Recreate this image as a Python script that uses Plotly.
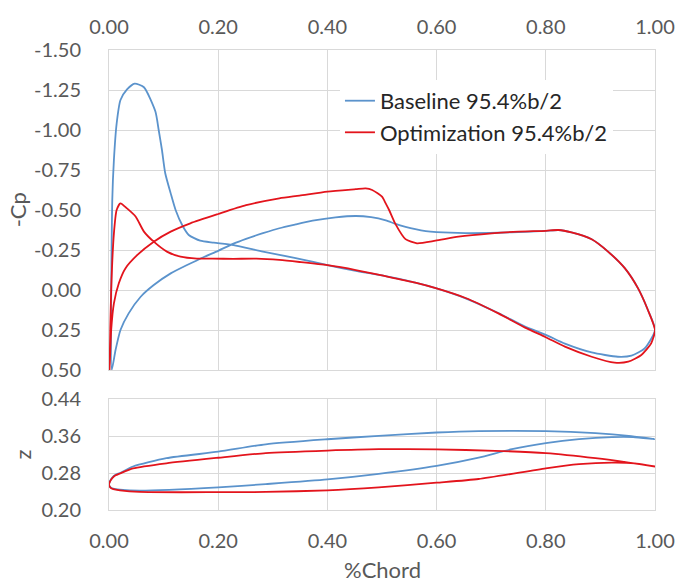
import plotly.graph_objects as go

# ---------------- data ----------------
series_names = ["Baseline 95.4%b/2", "Optimization 95.4%b/2"]

# Pressure distribution (value plotted on the -Cp axis), baseline
base_up_x = [0.005, 0.012, 0.021, 0.036, 0.058, 0.082, 0.113, 0.143, 0.173, 0.2, 0.228, 0.251, 0.282,
             0.312, 0.342, 0.373, 0.415, 0.452, 0.48, 0.507, 0.525, 0.543, 0.561, 0.58, 0.6, 0.653,
             0.713, 0.762, 0.8, 0.823, 0.847, 0.884, 0.914, 0.945, 0.969, 0.987, 1.0]
base_up_cp = [0.5, 0.375, 0.25, 0.146, 0.042, -0.031, -0.104, -0.156, -0.205, -0.245, -0.29, -0.32, -0.355,
              -0.386, -0.41, -0.433, -0.454, -0.4625, -0.455, -0.435, -0.413, -0.395, -0.38, -0.368, -0.362, -0.356,
              -0.358, -0.363, -0.37, -0.375, -0.36, -0.317, -0.24, -0.135, -0.01, 0.125, 0.25]
base_lo_x = [0.004, 0.006, 0.009, 0.014, 0.021, 0.033, 0.047, 0.064, 0.085, 0.091, 0.097, 0.103, 0.113,
             0.122, 0.134, 0.146, 0.167, 0.192, 0.228, 0.282, 0.342, 0.4, 0.452, 0.495, 0.561, 0.6, 0.653,
             0.713, 0.762, 0.8, 0.835, 0.884, 0.932, 0.957, 0.981, 1.0]
base_lo_cp = [0.5, -0.5625, -0.8125, -1.04, -1.1875, -1.254, -1.29, -1.267, -1.115, -1.0, -0.875, -0.73, -0.604,
              -0.5, -0.406, -0.344, -0.308, -0.296, -0.281, -0.24, -0.2, -0.155, -0.12, -0.094, -0.046, -0.01, 0.052,
              0.144, 0.229, 0.28, 0.335, 0.39, 0.417, 0.41, 0.365, 0.25]

# Pressure distribution, optimization
opt_up_x = [0.001, 0.004, 0.009, 0.018, 0.03, 0.052, 0.082, 0.113, 0.149, 0.2, 0.251, 0.312, 0.349, 0.4,
            0.452, 0.47, 0.482, 0.5, 0.507, 0.513, 0.525, 0.543, 0.564, 0.598, 0.64, 0.701, 0.75, 0.8,
            0.823, 0.847, 0.884, 0.914, 0.945, 0.969, 0.987, 1.0]
opt_up_cp = [0.5, 0.25, 0.083, -0.042, -0.135, -0.219, -0.302, -0.365, -0.417, -0.475, -0.53, -0.573, -0.59, -0.615,
             -0.63, -0.635, -0.625, -0.583, -0.54, -0.5, -0.41, -0.318, -0.292, -0.308, -0.333, -0.354, -0.365, -0.37,
             -0.375, -0.36, -0.317, -0.24, -0.135, -0.01, 0.125, 0.25]
opt_lo_x = [0.0, 0.004, 0.009, 0.014, 0.021, 0.033, 0.049, 0.064, 0.082, 0.106, 0.131, 0.161, 0.19, 0.228,
            0.27, 0.312, 0.349, 0.4, 0.452, 0.495, 0.561, 0.6, 0.653, 0.713, 0.762, 0.8, 0.835, 0.884,
            0.926, 0.951, 0.975, 0.993, 1.0]
opt_lo_cp = [0.5, 0.0, -0.354, -0.5, -0.542, -0.51, -0.458, -0.365, -0.302, -0.24, -0.208, -0.196, -0.196, -0.195,
             -0.196, -0.188, -0.175, -0.155, -0.125, -0.094, -0.046, -0.01, 0.05, 0.146, 0.235, 0.295, 0.354, 0.417,
             0.454, 0.448, 0.406, 0.333, 0.25]

# Section geometry (z), baseline
base_zu_x = [0.0, 0.002, 0.006, 0.012, 0.02, 0.044, 0.105, 0.2, 0.287, 0.4, 0.494, 0.6, 0.677, 0.8, 0.891, 0.952, 1.0]
base_zu = [0.254, 0.263, 0.27, 0.276, 0.28, 0.294, 0.312, 0.326, 0.342, 0.353, 0.3604, 0.3676, 0.3706, 0.3706,
           0.3663, 0.3604, 0.3532]
base_zl_x = [0.0, 0.003, 0.008, 0.02, 0.056, 0.2, 0.287, 0.4, 0.494, 0.6, 0.677, 0.738, 0.8, 0.861, 0.921, 0.96, 1.0]
base_zl = [0.254, 0.249, 0.246, 0.244, 0.242, 0.249, 0.256, 0.266, 0.278, 0.2953, 0.3133, 0.3315, 0.3445, 0.3532,
           0.3576, 0.3576, 0.3532]

# Section geometry (z), optimization
opt_zu_x = [0.0, 0.002, 0.006, 0.012, 0.02, 0.044, 0.105, 0.2, 0.287, 0.4, 0.494, 0.6, 0.707, 0.8, 0.891, 0.952, 1.0]
opt_zu = [0.254, 0.262, 0.269, 0.275, 0.279, 0.29, 0.301, 0.313, 0.323, 0.3285, 0.3315, 0.331, 0.328, 0.323,
          0.312, 0.3025, 0.294]
opt_zl_x = [0.0, 0.003, 0.008, 0.02, 0.056, 0.2, 0.287, 0.4, 0.494, 0.6, 0.677, 0.8, 0.861, 0.921, 0.963, 1.0]
opt_zl = [0.254, 0.248, 0.245, 0.2425, 0.239, 0.2385, 0.239, 0.2425, 0.249, 0.259, 0.267, 0.29, 0.299, 0.3025,
          0.301, 0.294]

# tick values / labels
x_ticks = [0.0, 0.2, 0.4, 0.6, 0.8, 1.0]
x_ticklabels = ["0.00", "0.20", "0.40", "0.60", "0.80", "1.00"]
cp_ticks = [-1.5, -1.25, -1.0, -0.75, -0.5, -0.25, 0.0, 0.25, 0.5]
cp_ticklabels = ["-1.50", "-1.25", "-1.00", "-0.75", "-0.50", "-0.25", "0.00", "0.25", "0.50"]
z_ticks = [0.20, 0.28, 0.36, 0.44]
z_ticklabels = ["0.20", "0.28", "0.36", "0.44"]

colors = ["#5b93cc", "#e3141c"]


def loop(ux, uy, lx, ly):
    # trailing edge -> upper -> leading edge -> lower -> trailing edge
    return list(reversed(ux)) + lx[1:], list(reversed(uy)) + ly[1:]


cp_sets = [loop(base_up_x, base_up_cp, base_lo_x, base_lo_cp), loop(opt_up_x, opt_up_cp, opt_lo_x, opt_lo_cp)]
z_sets = [loop(base_zu_x, base_zu, base_zl_x, base_zl), loop(opt_zu_x, opt_zu, opt_zl_x, opt_zl)]

FONT = "Lato"
TXT = "#595959"
GRID = "#d9d9d9"

fig = go.Figure()
for i, name in enumerate(series_names):
    x, y = cp_sets[i]
    fig.add_trace(go.Scatter(x=x, y=y, mode="lines", name=name, legendgroup=name,
                             line=dict(color=colors[i], width=1.8, shape="spline", smoothing=0.6),
                             xaxis="x", yaxis="y"))
for i, name in enumerate(series_names):
    x, y = z_sets[i]
    fig.add_trace(go.Scatter(x=x, y=y, mode="lines", name=name, legendgroup=name, showlegend=False,
                             line=dict(color=colors[i], width=1.8, shape="spline", smoothing=0.6),
                             xaxis="x2", yaxis="y2"))

tickfont = dict(family=FONT, size=20, color=TXT)
common = dict(showgrid=True, gridcolor=GRID, gridwidth=1, zeroline=False, showline=True,
              linecolor=GRID, linewidth=1, mirror=True, ticks="", tickfont=tickfont, automargin=False,
              ticklabeloverflow="allow")

fig.update_layout(
    width=676, height=583,
    margin=dict(l=109, r=21, t=50, b=73, autoexpand=False),
    paper_bgcolor="white", plot_bgcolor="white",
    font=dict(family=FONT, color=TXT),
    xaxis=dict(domain=[0, 1], range=[0, 1], tickvals=x_ticks, ticktext=x_ticklabels, side="top",
               anchor="y", ticklabelstandoff=7, **common),
    yaxis=dict(domain=[0.3043, 1.0], range=[0.5, -1.5], tickvals=cp_ticks, ticktext=cp_ticklabels,
               anchor="x", ticklabelstandoff=23, **common),
    xaxis2=dict(domain=[0, 1], range=[0, 1], tickvals=x_ticks, ticktext=x_ticklabels, side="bottom",
                anchor="y2", ticklabelstandoff=13, **common),
    yaxis2=dict(domain=[0, 0.2413], range=[0.2, 0.44], tickvals=z_ticks, ticktext=z_ticklabels,
                anchor="x2", ticklabelstandoff=23, **common),
    legend=dict(x=0.423, y=0.935, xanchor="left", yanchor="top", bgcolor="white",
                font=dict(family=FONT, size=22, color="#262626"), tracegroupgap=0),
    showlegend=True,
    annotations=[
        dict(text="-Cp", xref="paper", yref="paper", x=-0.168, y=0.652, showarrow=False,
             textangle=-90, font=dict(family=FONT, size=22, color=TXT), xanchor="center", yanchor="middle"),
        dict(text="z", xref="paper", yref="paper", x=-0.159, y=0.121, showarrow=False,
             textangle=-90, font=dict(family=FONT, size=22, color=TXT), xanchor="center", yanchor="middle"),
        dict(text="%Chord", xref="paper", yref="paper", x=0.5, y=-0.13, showarrow=False,
             font=dict(family=FONT, size=22, color=TXT), xanchor="center", yanchor="middle"),
    ],
)

fig.write_html("out.html")
